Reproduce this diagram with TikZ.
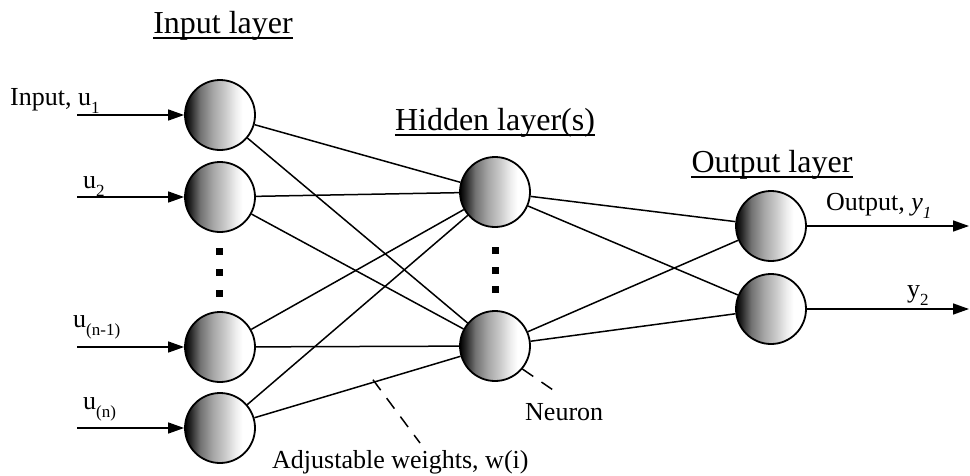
\documentclass[tikz,border=0pt]{standalone}
\usepackage{fontspec}
\setmainfont{Liberation Serif}
\usetikzlibrary{arrows.meta}
\pgfdeclarehorizontalshading{ballshade}{100bp}{color(0bp)=(black); color(25bp)=(black); color(29bp)=(black!85); color(36bp)=(black!55); color(45bp)=(black!35); color(54bp)=(black!20); color(61bp)=(black!7); color(66bp)=(white); color(100bp)=(white)}
\newcommand{\sbs}[1]{\raisebox{-0.75ex}{\fontsize{17}{19}\selectfont #1}}
\begin{document}
\begin{tikzpicture}[x=1pt,y=-1pt,
  neuron/.style={circle,draw=black,line width=1.8pt,minimum size=70pt,inner sep=0pt,shading=ballshade},
  wire/.style={line width=1.5pt},
  inarrow/.style={line width=1.5pt,-{Triangle[length=16pt,width=11pt]}},
  dot/.style={fill=black,minimum size=7pt,inner sep=0pt},
  heading/.style={font=\fontsize{32}{37}\selectfont,anchor=base,inner sep=0pt},
  lbl/.style={font=\fontsize{26}{30}\selectfont,anchor=base west,inner sep=0pt},
  annot/.style={line width=1.5pt,dash pattern=on 13pt off 10pt}]
\useasboundingbox (0,0) rectangle (970,475);
% neurons
\node[neuron] (i1) at (220,115) {};
\node[neuron] (i2) at (220,197) {};
\node[neuron] (i3) at (220,347) {};
\node[neuron] (i4) at (220,428) {};
\node[neuron] (h1) at (495,192) {};
\node[neuron] (h2) at (495,346) {};
\node[neuron] (o1) at (771,226) {};
\node[neuron] (o2) at (771,309) {};
% dots
\node[dot] (di1) at (219,251) {};
\node[dot] (di2) at (219,272) {};
\node[dot] (di3) at (219,293) {};
\node[dot] (dh1) at (495,250) {};
\node[dot] (dh2) at (495,270) {};
\node[dot] (dh3) at (495,289) {};
% weights
\foreach \a in {i1,i2,i3,i4}{
  \foreach \b in {h1,h2}{ \draw[wire] (\a) -- (\b); }}
\foreach \a in {h1,h2}{
  \foreach \b in {o1,o2}{ \draw[wire] (\a) -- (\b); }}
% input arrows
\coordinate (s1) at (77,115);
\coordinate (s2) at (77,197);
\coordinate (s3) at (77,347);
\coordinate (s4) at (77,428);
\draw[inarrow] (s1) -- (i1);
\draw[inarrow] (s2) -- (i2);
\draw[inarrow] (s3) -- (i3);
\draw[inarrow] (s4) -- (i4);
% output arrows
\coordinate (e1) at (969,226);
\coordinate (e2) at (969,309);
\draw[inarrow] (o1) -- (e1);
\draw[inarrow] (o2) -- (e2);
% headings
\node[heading] (hin) at (223,33) {Input layer};
\node[heading] (hhid) at (495,130) {Hidden layer(s)};
\node[heading] (hout) at (772,172) {Output layer};
\foreach \n in {hin,hhid,hout}{
  \draw[line width=1.2pt] ([yshift=-5pt]\n.base west) -- ([yshift=-5pt]\n.base east);}
% input labels
\node[lbl] (l1) at (10,105) {Input, u\sbs{1}};
\node[lbl] (l2) at (83,188) {u\sbs{2}};
\node[lbl] (l3) at (73,327) {u\sbs{(n-1)}};
\node[lbl] (l4) at (83,409) {u\sbs{(n)}};
% output labels
\node[lbl] (lo1) at (826,210) {Output, \textit{y}\sbs{\textit{1}}};
\node[lbl] (lo2) at (907,297) {y\sbs{2}};
% annotations
\node[lbl] (neu) at (525,420) {Neuron};
\coordinate (neuend) at (556,392);
\draw[annot] (h2.-40) -- (neuend);
\node[lbl] (adj) at (272,468) {Adjustable weights, w(i)};
\path (i4) -- (h2) coordinate[pos=0.57] (wpt);
\coordinate (wend) at (420,443);
\draw[annot] ([shift={(1pt,3pt)}]wpt) -- (wend);
\end{tikzpicture}
\end{document}
